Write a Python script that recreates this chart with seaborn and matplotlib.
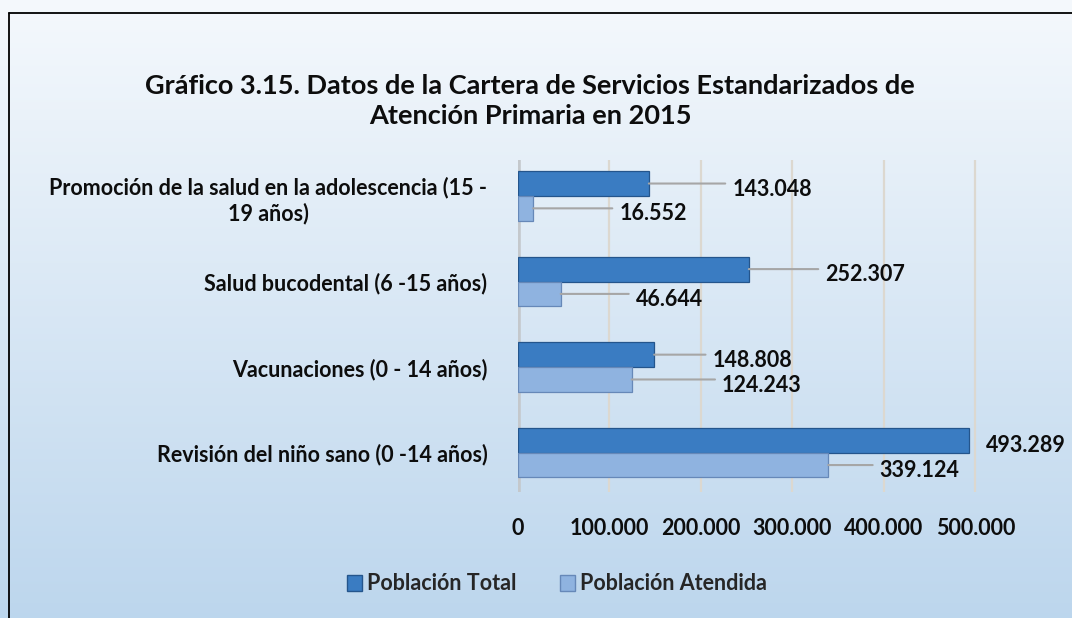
import matplotlib
matplotlib.use("Agg")
import matplotlib.pyplot as plt
import seaborn as sns
import numpy as np
import pandas as pd
from matplotlib.lines import Line2D
from matplotlib.patches import Patch

categories = [
    "Promoción de la salud en la adolescencia (15 -\n19 años)",
    "Salud bucodental (6 -15 años)",
    "Vacunaciones (0 - 14 años)",
    "Revisión del niño sano (0 -14 años)",
]
series = ["Población Total", "Población Atendida"]
total = [143048, 252307, 148808, 493289]
atendida = [16552, 46644, 124243, 339124]
x_ticks = [0, 100000, 200000, 300000, 400000, 500000]
x_tick_labels = ["0", "100.000", "200.000", "300.000", "400.000", "500.000"]

# gap (in points) between bar end and its label, as in the original layout
gap_total = [60, 55, 42, 12]
gap_atendida = [62, 54, 65, 37]

df = pd.DataFrame({
    "categoria": categories * 2,
    "serie": [series[0]] * 4 + [series[1]] * 4,
    "valor": total + atendida,
})

fmt = lambda v: f"{v:,}".replace(",", ".")

sns.set_theme(style="white")
plt.rcParams["font.family"] = ["Lato", "DejaVu Sans"]
plt.rcParams["font.weight"] = "bold"

dark = "#3a7cc2"
light = "#8fb3e0"
txt = "#0d0d0d"
fs = 15.5

fig = plt.figure(figsize=(10.72, 6.18), dpi=100)

# gradient background
bg = fig.add_axes([0, 0, 1, 1], zorder=-10)
grad = np.linspace(0, 1, 256).reshape(-1, 1)
top_c = np.array([0.96, 0.975, 0.99])
bot_c = np.array([0.74, 0.84, 0.93])
img = top_c + (bot_c - top_c) * grad[..., None]
bg.imshow(img, aspect="auto", extent=[0, 1, 0, 1], origin="upper")
bg.set_xlim(0, 1)
bg.set_ylim(0, 1)
bg.axis("off")
bg.add_line(Line2D([9 / 1072, 9 / 1072], [0, 1 - 13 / 618], color="black", lw=1.3))
bg.add_line(Line2D([9 / 1072, 1], [1 - 13 / 618, 1 - 13 / 618], color="black", lw=1.3))

ax = fig.add_axes([518 / 1072, 1 - 492 / 618, (1012 - 518) / 1072, (492 - 160) / 618])
ax.patch.set_alpha(0)

sns.barplot(data=df, x="valor", y="categoria", hue="serie", orient="h",
            palette=[dark, light], saturation=1, width=0.58, ax=ax, legend=False,
            edgecolor="#24558c", linewidth=0.9, zorder=3)
for i, bar in enumerate(ax.patches):
    if i >= 4:
        bar.set_edgecolor("#6688b8")

ax.set_xlim(0, 540000)
ax.set_ylim(3.46, -0.42)
ax.set_xticks(x_ticks)
ax.set_xticklabels(x_tick_labels, fontsize=fs, fontweight="bold")
ax.tick_params(axis="x", pad=19, length=0)
ax.tick_params(axis="y", pad=22, length=0)
ax.set_yticks(range(len(categories)))
ax.set_yticklabels(categories, fontsize=fs, fontweight="bold",
                   multialignment="center", linespacing=1.25)
for t in ax.get_xticklabels() + ax.get_yticklabels():
    t.set_color(txt)
ax.set_xlabel("")
ax.set_ylabel("")
for s in ax.spines.values():
    s.set_visible(False)
for xt in x_ticks:
    ax.axvline(xt, color="#dcd8d0", lw=1.6, zorder=1)
ax.axvline(0, color="#c4c8cc", lw=4, zorder=1)

# value labels with leader lines
h = 0.29
for i in range(len(categories)):
    for vals, gaps, off in ((total, gap_total, -h / 2), (atendida, gap_atendida, h / 2)):
        v = vals[i]
        y = i + off
        g = gaps[i]
        ax.annotate(fmt(v), xy=(v, y), xytext=(g, -4), textcoords="offset points",
                    ha="left", va="center", fontsize=fs, fontweight="bold",
                    color=txt, zorder=5)
        if g > 20:
            ax.annotate("", xy=(v, y), xytext=(g - 5, 0), textcoords="offset points",
                        arrowprops=dict(arrowstyle="-", color="#a6a6a6", lw=1.5,
                                        shrinkA=0, shrinkB=0), zorder=4)

fig.suptitle("Gráfico 3.15. Datos de la Cartera de Servicios Estandarizados de\nAtención Primaria en 2015",
             x=530 / 1072, y=1 - 74 / 618, fontsize=19.5, fontweight="bold",
             color=txt, linespacing=1.3)

handles = [Patch(facecolor=dark, edgecolor="#24558c"),
           Patch(facecolor=light, edgecolor="#6688b8")]
fig.legend(handles, series, loc="center", bbox_to_anchor=(557 / 1072, 1 - 584 / 618),
           ncol=2, frameon=False, handlelength=0.7, handleheight=0.7,
           handletextpad=0.25, columnspacing=2.0,
           prop={"size": fs, "weight": "bold"})

fig.savefig("out.png", dpi=100)
